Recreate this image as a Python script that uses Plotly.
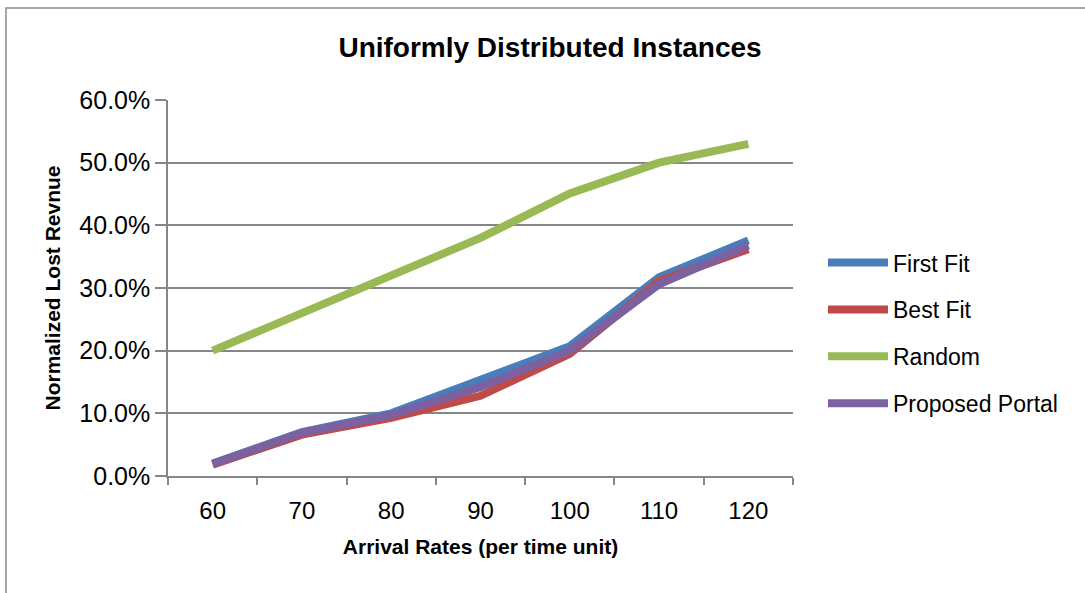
import plotly.graph_objects as go

# Arrival rates (per time unit)
arrival_rates = ["60", "70", "80", "90", "100", "110", "120"]

# Normalized lost revenue per allocation strategy
first_fit = [0.020, 0.070, 0.100, 0.153, 0.207, 0.317, 0.376]
best_fit = [0.018, 0.066, 0.093, 0.128, 0.195, 0.311, 0.362]
random_alloc = [0.200, 0.260, 0.320, 0.380, 0.451, 0.500, 0.530]
proposed_portal = [0.019, 0.069, 0.097, 0.142, 0.200, 0.306, 0.368]

series = [
    ("First Fit", first_fit, "#4a7ebb"),
    ("Best Fit", best_fit, "#be4b48"),
    ("Random", random_alloc, "#98b954"),
    ("Proposed Portal", proposed_portal, "#7d60a0"),
]

FONT = "Liberation Sans Narrow, Arial Narrow, Liberation Sans, Arial, sans-serif"
AXIS_GREY = "#868686"

fig = go.Figure()
for i, (name, vals, color) in enumerate(series):
    fig.add_trace(go.Scatter(
        x=arrival_rates, y=vals, name=name, mode="lines",
        line=dict(color=color, width=8, shape="linear"),
        legendgroup=f"g{i}",
    ))

fig.update_layout(
    width=1085, height=593,
    margin=dict(l=168, r=292, t=100, b=117),
    paper_bgcolor="white", plot_bgcolor="white",
    font=dict(family=FONT, color="#000000", size=22),
    title=dict(
        text="<b>Uniformly Distributed Instances</b>",
        x=550 / 1085, xanchor="center", y=1 - 47 / 593, yanchor="middle",
        font=dict(size=28, family=FONT),
    ),
    showlegend=True,
    legend=dict(
        x=1.048, xanchor="left", y=0.38, yanchor="middle",
        font=dict(size=23, family=FONT),
        tracegroupgap=14, itemwidth=60,
        bgcolor="rgba(0,0,0,0)",
    ),
    xaxis=dict(
        type="category", range=[-0.5, 6.5],
        showline=True, linecolor=AXIS_GREY, linewidth=1.5,
        ticks="outside", tickson="boundaries", ticklen=7, tickcolor=AXIS_GREY, tickwidth=1.5,
        ticklabelstandoff=12,
        showgrid=False, zeroline=False,
        tickfont=dict(size=24, family=FONT),
        title=dict(text="<b>Arrival Rates (per time unit)</b>", font=dict(size=21, family=FONT), standoff=17),
    ),
    yaxis=dict(
        range=[0, 0.6], dtick=0.1, tickformat=".1%",
        showline=True, linecolor=AXIS_GREY, linewidth=1.5,
        ticks="outside", ticklen=11, tickcolor=AXIS_GREY, tickwidth=1.5,
        showgrid=True, gridcolor=AXIS_GREY, gridwidth=1.5,
        zeroline=False,
        tickfont=dict(size=25, family=FONT),
        title=dict(text="<b>Normalized Lost Revnue</b>", font=dict(size=21, family=FONT), standoff=13),
    ),
)

# Outer chart frame
fig.add_shape(
    type="rect", xref="paper", yref="paper",
    x0=(6 - 168) / 625, x1=(1095 - 168) / 625,
    y0=(476 - 610) / 376, y1=(476 - 8) / 376,
    line=dict(color="#8c8c8c", width=1.5), fillcolor="rgba(0,0,0,0)", layer="below",
)

fig.write_html("out.html")
